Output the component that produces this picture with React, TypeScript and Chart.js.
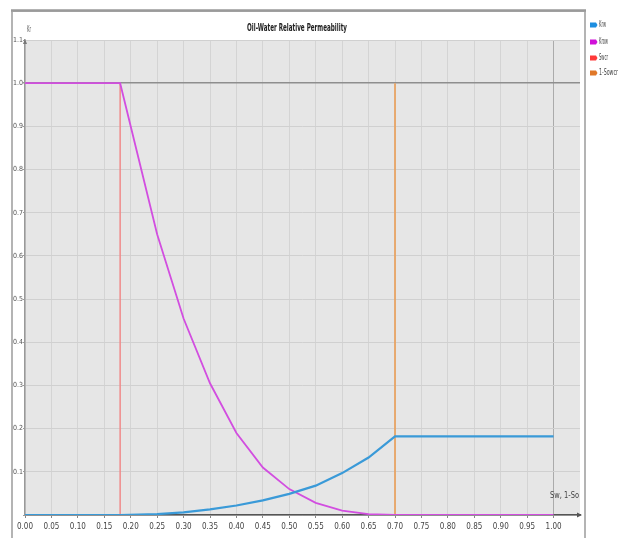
import React, { useEffect, useRef } from "react";
import { Chart, registerables } from "chart.js";

Chart.register(...registerables);

// ---- data ----
const SW = [0, 0.05, 0.1, 0.15, 0.18, 0.25, 0.3, 0.35, 0.4, 0.45, 0.5, 0.55, 0.6, 0.65, 0.7, 0.75, 0.8, 0.85, 0.9, 0.95, 1.0];
const KRW = [0, 0, 0, 0, 0, 0.002, 0.006, 0.013, 0.022, 0.034, 0.049, 0.068, 0.097, 0.133, 0.182, 0.182, 0.182, 0.182, 0.182, 0.182, 0.182];
const KROW = [1, 1, 1, 1, 1, 0.65, 0.455, 0.305, 0.19, 0.11, 0.06, 0.028, 0.01, 0.002, 0, 0, 0, 0, 0, 0, 0];
const SWCR = 0.18;
const ONE_MINUS_SOWCR = 0.7;
const VLINE_Y = [0, 1.0];
const SERIES_NAMES = ["Krw", "Krow", "Swcr", "1-Sowcr"];
const SERIES_COLORS = ["#3a9ad8", "#d24ee0", "#f08a8a", "#e8a464"];
const LEGEND_COLORS = ["#1e8ee0", "#d010d8", "#ff3a3a", "#e07828"];
const TITLE = "Oil-Water Relative Permeability";
const Y_LABEL = "Kr";
const X_LABEL = "Sw, 1-So";
const X_MIN = 0;
const X_MAX = 1.05;
const X_LAST_LABEL = 1.0;
const X_STEP = 0.05;
const Y_MIN = 0;
const Y_MAX = 1.1;
const Y_STEP = 0.1;

const FONT = "'DejaVu Sans Condensed', 'Liberation Sans Narrow', 'DejaVu Sans', sans-serif";

function squeezedText(ctx: CanvasRenderingContext2D, text: string, x: number, y: number, width: number, font: string, color: string, align: "left" | "center" | "right") {
  ctx.save();
  ctx.font = font;
  ctx.fillStyle = color;
  ctx.textBaseline = "middle";
  const w = ctx.measureText(text).width;
  const s = width / w;
  ctx.translate(x, y);
  ctx.scale(s, 1);
  ctx.textAlign = align;
  ctx.fillText(text, 0, 0);
  ctx.restore();
}

const decorPlugin = {
  id: "decor",
  beforeDraw(chart: any) {
    const { ctx, chartArea } = chart;
    ctx.save();
    ctx.fillStyle = "#ffffff";
    ctx.fillRect(0, 0, chart.width, chart.height);
    // frame
    ctx.strokeStyle = "#b4b4b4";
    ctx.lineWidth = 2;
    ctx.beginPath();
    ctx.moveTo(12, 560);
    ctx.lineTo(12, 11);
    ctx.lineTo(585, 11);
    ctx.lineTo(585, 560);
    ctx.stroke();
    ctx.strokeStyle = "#9a9a9a";
    ctx.lineWidth = 2.5;
    ctx.beginPath();
    ctx.moveTo(11, 10.5);
    ctx.lineTo(586, 10.5);
    ctx.stroke();
    // plot background
    ctx.fillStyle = "#e6e6e6";
    ctx.fillRect(chartArea.left, chartArea.top, chartArea.right - chartArea.left, chartArea.bottom - chartArea.top);
    ctx.restore();
  },
  afterDraw(chart: any) {
    const { ctx, chartArea } = chart;
    ctx.save();
    // arrows
    ctx.fillStyle = "#555";
    ctx.beginPath();
    ctx.moveTo(chartArea.right + 2, chartArea.bottom);
    ctx.lineTo(chartArea.right - 3, chartArea.bottom - 2.5);
    ctx.lineTo(chartArea.right - 3, chartArea.bottom + 2.5);
    ctx.closePath();
    ctx.fill();
    ctx.fillStyle = "#777";
    ctx.beginPath();
    ctx.moveTo(chartArea.left, chartArea.top - 1);
    ctx.lineTo(chartArea.left - 2, chartArea.top + 4);
    ctx.lineTo(chartArea.left + 2, chartArea.top + 4);
    ctx.closePath();
    ctx.fill();
    // title and axis labels
    squeezedText(ctx, TITLE, 297, 28, 100, "bold 11px " + FONT, "#222", "center");
    squeezedText(ctx, Y_LABEL, 27, 30, 4, "8px " + FONT, "#555", "left");
    squeezedText(ctx, X_LABEL, 579, 496, 29, "9px " + FONT, "#444", "right");
    // legend
    const ys = [25, 42, 58, 73];
    const widths = [7, 9, 9, 19];
    chart.data.datasets.forEach((ds: any, i: number) => {
      const y = ys[i];
      ctx.fillStyle = LEGEND_COLORS[i];
      ctx.beginPath();
      ctx.moveTo(590, y - 2.5);
      ctx.lineTo(596, y - 2.5);
      ctx.lineTo(597.5, y);
      ctx.lineTo(596, y + 2.5);
      ctx.lineTo(590, y + 2.5);
      ctx.closePath();
      ctx.fill();
      squeezedText(ctx, ds.label, 599, y, widths[i], "8px " + FONT, "#444", "left");
    });
    ctx.restore();
  },
};

function pts(xs: number[], ys: number[]) {
  return xs.map((x, i) => ({ x, y: ys[i] }));
}

export default function App() {
  const ref = useRef<HTMLCanvasElement | null>(null);
  useEffect(() => {
    if (!ref.current) return;
    const chart = new Chart(ref.current, {
      type: "line",
      data: {
        datasets: [
          { label: SERIES_NAMES[0], data: pts(SW, KRW), borderColor: SERIES_COLORS[0], borderWidth: 2.2, pointRadius: 0, tension: 0 },
          { label: SERIES_NAMES[1], data: pts(SW, KROW), borderColor: SERIES_COLORS[1], borderWidth: 1.8, pointRadius: 0, tension: 0 },
          { label: SERIES_NAMES[2], data: pts([SWCR, SWCR], VLINE_Y), borderColor: SERIES_COLORS[2], borderWidth: 1.5, pointRadius: 0 },
          { label: SERIES_NAMES[3], data: pts([ONE_MINUS_SOWCR, ONE_MINUS_SOWCR], VLINE_Y), borderColor: SERIES_COLORS[3], borderWidth: 1.8, pointRadius: 0 },
        ],
      },
      options: {
        responsive: false,
        animation: false,
        devicePixelRatio: 1,
        layout: { padding: { left: 12, top: 40, right: 42, bottom: 0 } },
        plugins: { legend: { display: false }, title: { display: false }, tooltip: { enabled: false } },
        scales: {
          x: {
            type: "linear",
            min: X_MIN,
            max: X_MAX,
            afterBuildTicks: (scale: any) => {
              scale.ticks = scale.ticks.filter((t: any) => t.value <= X_LAST_LABEL + 1e-6);
            },
            afterFit: (scale: any) => {
              scale.height = 23;
            },
            ticks: {
              stepSize: X_STEP,
              autoSkip: false,
              maxRotation: 0,
              padding: 4,
              color: "#444",
              font: { size: 8, family: FONT },
              callback: (v: any) => Number(v).toFixed(2),
            },
            grid: {
              color: (c: any) => (c.tick && Math.abs(c.tick.value - 1) < 1e-6 ? "#ababab" : "#d4d4d4"),
              tickLength: 3,
              tickColor: "#888",
            },
            border: { color: "#555", width: 1.5 },
          },
          y: {
            type: "linear",
            min: Y_MIN,
            max: Y_MAX,
            afterFit: (scale: any) => {
              scale.width = 13;
            },
            ticks: {
              stepSize: Y_STEP,
              padding: 0,
              color: "#555",
              font: { size: 7, family: FONT },
              callback: (v: any) => (Math.abs(v) < 1e-6 ? "" : Number(v).toFixed(1)),
            },
            grid: {
              color: (c: any) => (c.tick && Math.abs(c.tick.value - 1) < 1e-6 ? "#8e8e8e" : "#d0d0d0"),
              lineWidth: (c: any) => (c.tick && Math.abs(c.tick.value - 1) < 1e-6 ? 1.5 : 1),
              tickLength: 2,
              tickColor: "#999",
            },
            border: { color: "#999", width: 1.5 },
          },
        },
      },
      plugins: [decorPlugin],
    } as any);
    return () => chart.destroy();
  }, []);
  return (
    <div style={{ position: "absolute", left: 0, top: 0, width: 622, height: 538 }}>
      <canvas ref={ref} width={622} height={538} />
    </div>
  );
}
